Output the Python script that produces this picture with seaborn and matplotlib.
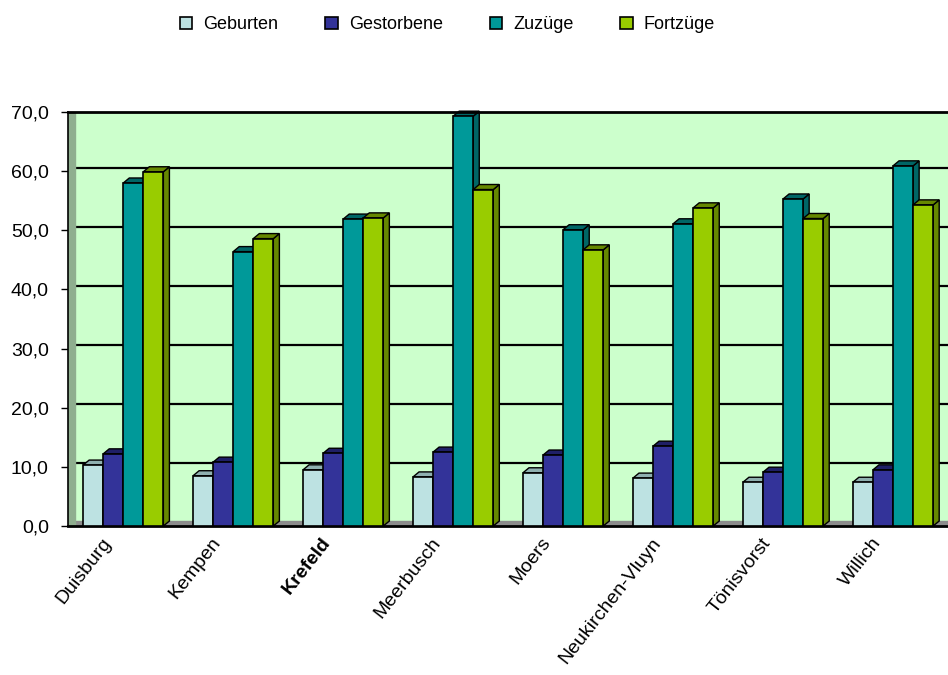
import numpy as np
import pandas as pd
import matplotlib
matplotlib.use("Agg")
import matplotlib.pyplot as plt
import matplotlib.transforms as mtransforms
import seaborn as sns
from matplotlib.patches import Polygon, Patch
from matplotlib.ticker import FuncFormatter

# Daten (Werte je 1.000 Einwohner)
staedte = ["Duisburg", "Kempen", "Krefeld", "Meerbusch", "Moers",
           "Neukirchen-Vluyn", "Tönisvorst", "Willich"]
serien = ["Geburten", "Gestorbene", "Zuzüge", "Fortzüge"]
geburten = [10.3, 8.5, 9.5, 8.3, 9.0, 8.1, 7.4, 7.4]
gestorbene = [12.2, 10.8, 12.3, 12.5, 12.0, 13.5, 9.1, 9.5]
zuzuege = [58.0, 46.4, 51.9, 69.3, 50.1, 51.1, 55.3, 60.9]
fortzuege = [59.9, 48.6, 52.1, 56.9, 46.7, 53.8, 52.0, 54.3]

farben = ["#bde2e2", "#333399", "#009999", "#99cc00"]
seiten = ["#8fb0b0", "#1f1f66", "#006666", "#668800"]

df = pd.DataFrame({
    "Stadt": staedte * 4,
    "Serie": np.repeat(serien, len(staedte)),
    "Wert": geburten + gestorbene + zuzuege + fortzuege,
})

sns.set_style("white")
plt.rcParams["font.family"] = ["Liberation Sans", "DejaVu Sans"]
plt.rcParams["text.color"] = "black"
plt.rcParams["xtick.color"] = "black"
plt.rcParams["ytick.color"] = "black"

fig = plt.figure(figsize=(9.48, 6.75), dpi=100)
ax = fig.add_axes([0.072, 0.2207, 0.928, 0.6133])
ax.set_facecolor("#ccffcc")

sns.barplot(data=df, x="Stadt", y="Wert", hue="Serie", hue_order=serien,
            palette=farben, saturation=1, width=0.73, edgecolor="black",
            linewidth=1.2, legend=False, ax=ax, zorder=3)

# 3D-Optik: Seiten- und Deckflächen aus den Balken abgeleitet
dx, dy = 0.055, 0.85
for i, cont in enumerate(ax.containers):
    for bar in cont:
        x0, w, h = bar.get_x(), bar.get_width(), bar.get_height()
        side = Polygon([(x0 + w, 0), (x0 + w + dx, dy), (x0 + w + dx, h + dy), (x0 + w, h)],
                       closed=True, facecolor=seiten[i], edgecolor="black",
                       linewidth=1.0, zorder=2, clip_on=False)
        top = Polygon([(x0, h), (x0 + dx, h + dy), (x0 + w + dx, h + dy), (x0 + w, h)],
                      closed=True, facecolor=seiten[i], edgecolor="black",
                      linewidth=1.0, zorder=2, clip_on=False)
        ax.add_patch(side)
        ax.add_patch(top)

# Boden und linke Wand
ax.axhspan(0, dy, color="#8c8c8c", zorder=1.5)
ax.axvspan(-0.5, -0.44, color="#8fae8f", zorder=1.6)

ax.set_xlim(-0.5, 7.5)
ax.set_ylim(0, 70)
ax.set_yticks(np.arange(0, 71, 10))
ax.yaxis.set_major_formatter(FuncFormatter(lambda v, p: f"{v:.1f}".replace(".", ",")))
for y in range(10, 70, 10):
    ax.axhline(y + 0.6, color="black", linewidth=1.6, zorder=1)

ax.tick_params(axis="y", which="major", left=True, length=5, width=1, labelsize=14, pad=9)
ax.tick_params(axis="x", length=0, labelsize=14, pad=6)
ax.set_xlabel("")
ax.set_ylabel("")

shift = mtransforms.ScaledTranslation(-0.22, 0, fig.dpi_scale_trans)
for lbl in ax.get_xticklabels():
    lbl.set_rotation(52)
    lbl.set_ha("right")
    lbl.set_rotation_mode("anchor")
    lbl.set_transform(lbl.get_transform() + shift)
    if lbl.get_text() == "Krefeld":
        lbl.set_fontweight("bold")

for s in ["left", "bottom", "top"]:
    ax.spines[s].set_visible(True)
    ax.spines[s].set_color("black")
ax.spines["left"].set_linewidth(1.2)
ax.spines["bottom"].set_linewidth(2)
ax.spines["top"].set_linewidth(2)
ax.spines["right"].set_visible(False)

handles = [Patch(facecolor=c, edgecolor="black", linewidth=1.2) for c in farben]
fig.legend(handles, serien, loc="center", bbox_to_anchor=(0.472, 0.963), ncol=4,
           frameon=False, fontsize=13, handlelength=0.7, handleheight=0.7,
           handletextpad=0.6, columnspacing=2.6)

fig.savefig("out.png", dpi=100)
